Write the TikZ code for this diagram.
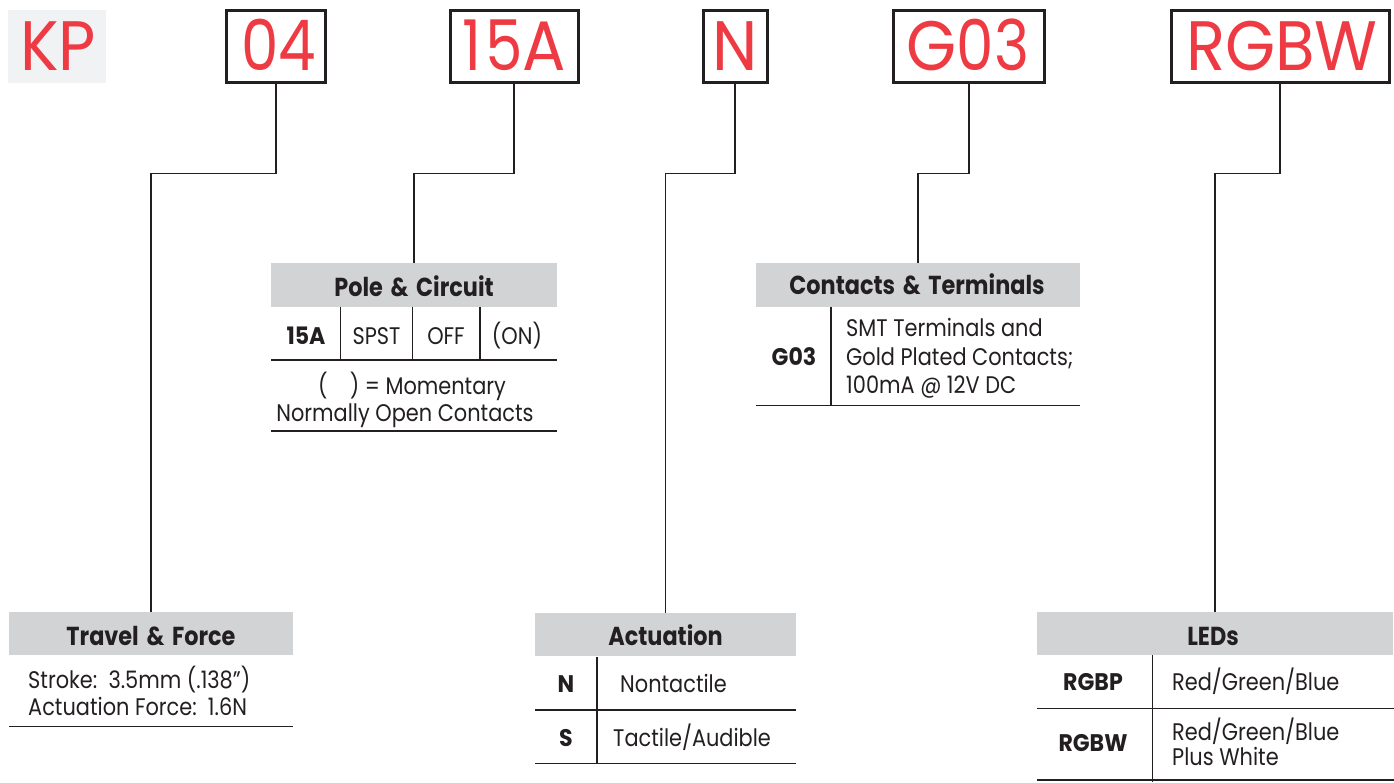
\documentclass[tikz,border=0pt]{standalone}
\usepackage{fontspec}
\setmainfont{Poppins}
\newfontfamily\geofont[FakeStretch=0.87]{Poppins}
\newfontfamily\geohdr[FakeStretch=0.86]{Poppins}
\newfontfamily\geodig[FakeStretch=0.85]{Poppins}
\newfontfamily\geolet[FakeStretch=0.92]{Poppins}
\definecolor{redc}{HTML}{EE3A43}
\definecolor{linec}{HTML}{231F20}
\definecolor{hdrgray}{HTML}{D1D3D4}
\definecolor{kpgray}{HTML}{F1F2F4}
\newcommand\myred{\fontsize{70}{70}\selectfont}
\newcommand\myhdr{\geohdr\bfseries\fontsize{26}{28}\selectfont}
\newcommand\mybody{\geofont\fontsize{24}{28}\selectfont}
\newcommand\mycode{\geolet\bfseries\fontsize{24}{28}\selectfont}
\newcommand\myamp{\ \hspace{3pt}\&\hspace{3pt}\ }
\newcommand\Ld[1]{{\geodig #1}}
\newcommand\Ll[1]{{\geolet #1}}
\begin{document}
\begin{tikzpicture}[x=1pt,y=-1pt,
  codebox/.style={draw=linec,line width=3pt,inner sep=0pt,minimum height=72pt},
  redtext/.style={text=redc,font=\myred,inner sep=0pt,anchor=base},
  hdr/.style={fill=hdrgray,inner sep=0pt,minimum height=43.5pt},
  hdrtext/.style={font=\myhdr,text=linec,inner sep=0pt,anchor=base},
  body/.style={font=\mybody,text=linec,inner sep=0pt,anchor=base west},
  bodyc/.style={font=\mybody,text=linec,inner sep=0pt,anchor=base},
  code/.style={font=\mycode,text=linec,inner sep=0pt,anchor=base},
  conn/.style={draw=linec,line width=1.5pt},
  rule/.style={draw=linec,line width=1.5pt}]
\useasboundingbox (0,0) rectangle (1394,782);
% top code boxes
\node[fill=kpgray,inner sep=0pt,minimum width=98pt,minimum height=73pt] (kpbg) at (57,46) {};
\node[redtext] (kp) at (58,70) {\Ll{KP}};
\node[codebox,minimum width=99pt] (b04) at (276,46) {};
\node[redtext] (t04) at (279,70) {\Ld{04}};
\node[codebox,minimum width=128pt] (b15) at (514,46) {};
\node[redtext] (t15) at (514,70) {\Ld{1\hspace{4pt}5}\Ll{A}};
\node[codebox,minimum width=64pt] (bN) at (735,46) {};
\node[redtext] (tN) at (735,70) {\Ll{N}};
\node[codebox,minimum width=151pt] (bG) at (969,46) {};
\node[redtext] (tG) at (968,70) {\Ll{G}\Ld{03}};
\node[codebox,minimum width=218pt] (bR) at (1280,46) {};
\node[redtext] (tR) at (1282,70) {\Ll{RGBW}};

% headers
\node[hdr,minimum width=284pt] (tf) at (151,633.7) {};
\node[hdrtext] at (151,645) {Travel\myamp{}Force};
\node[hdr,minimum width=286pt] (pc) at (414,285) {};
\node[hdrtext] at (414,296.7) {Pole\myamp{}Circuit};
\node[hdr,minimum width=261pt] (ac) at (665.5,634.5) {};
\node[hdrtext] at (665.5,645) {Actuation};
\node[hdr,minimum width=324pt] (ct) at (918,285) {};
\node[hdrtext] at (917,294.5) {Contacts\myamp{}Terminals};
\node[hdr,minimum width=356pt] (ld) at (1215,633.7) {};
\node[hdrtext] at (1213,645) {LEDs};

% connectors
\coordinate (k04) at (276,173.5);
\coordinate (k15) at (514,173.5);
\coordinate (kN) at (735,173.5);
\coordinate (kG) at (969,173.5);
\coordinate (kR) at (1280,173.5);
\draw[conn] (b04.south) -- (k04) -- (k04 -| tf.north) -- (tf.north);
\draw[conn] (b15.south) -- (k15) -- (k15 -| pc.north) -- (pc.north);
\draw[conn] (bN.south) -- (kN) -- (kN -| ac.north) -- (ac.north);
\draw[conn] (bG.south) -- (kG) -- (kG -| ct.north) -- (ct.north);
\draw[conn] (bR.south) -- (kR) -- (kR -| ld.north) -- (ld.north);

% Travel & Force body
\node[body] at (28,688.3) {Stroke:\ \ 3.5mm (.138”)};
\node[body] at (28,715) {Actuation Force:\ \ 1.6N};
\draw[rule] (9,726.7) -- (293,726.7);

% Pole & Circuit body
\draw[rule] (340.3,306.7) -- (340.3,360);
\draw[rule] (412.3,306.7) -- (412.3,360);
\draw[rule] (480,306.7) -- (480,360);
\draw[rule] (271,360) -- (557,360);
\node[code] at (306,344.3) {15A};
\node[bodyc] at (376.5,344.3) {SPST};
\node[bodyc] at (446,344.3) {OFF};
\node[bodyc] at (517,344.3) {(ON)};
\node[bodyc] at (412,394.5) {(\ \ \ \ ) = Momentary};
\node[bodyc] at (405,421) {Normally Open Contacts};
\draw[rule] (271,431) -- (557,431);

% Contacts & Terminals body
\draw[rule] (831,306.7) -- (831,405.5);
\draw[rule] (756,405.5) -- (1080,405.5);
\node[code] at (794,365) {G03};
\node[body] at (846,336.7) {SMT Terminals and};
\node[body] at (846,365) {Gold Plated Contacts;};
\node[body] at (846,393.3) {100mA @ 12V DC};

% Actuation body
\draw[rule] (597,656.5) -- (597,763.5);
\draw[rule] (535,710) -- (796,710);
\draw[rule] (535,763.5) -- (796,763.5);
\node[code] at (566,692.7) {N};
\node[body] at (620,692.7) {Nontactile};
\node[code] at (566,746.7) {S};
\node[body] at (613,746.7) {Tactile/Audible};

% LEDs body
\draw[rule] (1152.7,655) -- (1152.7,782);
\draw[rule] (1037,708.3) -- (1394,708.3);
\draw[rule] (1037,780) -- (1394,780);
\node[code] at (1093,690) {RGBP};
\node[body] at (1172,690) {Red/Green/Blue};
\node[code] at (1093,751.7) {RGBW};
\node[body] at (1172,740) {Red/Green/Blue};
\node[body] at (1172,765) {Plus White};
\end{tikzpicture}
\end{document}
